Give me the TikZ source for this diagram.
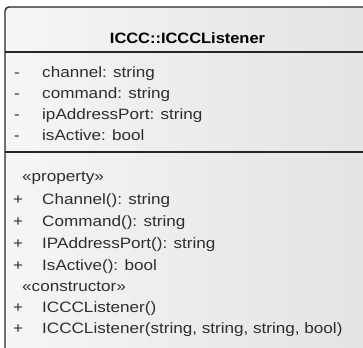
\documentclass[tikz,border=0pt]{standalone}
\usepackage{fontspec}
\setmainfont{Liberation Sans}[FakeStretch=1.14]
\newfontfamily\titlefont{Liberation Sans Bold}[FakeStretch=1.095]
\usetikzlibrary{shadings}
\definecolor{boxleft}{HTML}{F6F6F6}
\definecolor{boxright}{HTML}{E3E3E3}
\definecolor{txt}{HTML}{2E2E2E}
\tikzset{
  member/.style={anchor=base west, inner sep=0pt, text=txt, font=\fontsize{15}{17}\selectfont},
  vis/.style={anchor=base, inner sep=0pt, text=txt, font=\fontsize{15}{17}\selectfont},
  titletext/.style={anchor=base, inner sep=0pt, text=black, font=\fontsize{15}{17}\titlefont},
  border/.style={draw=black!85, line width=1.4pt}
}
\begin{document}
\begin{tikzpicture}[x=1pt,y=-1pt]
\useasboundingbox (0,0) rectangle (363,347);
\begin{scope}
\clip (0,0) rectangle (363,347);
\path[left color=boxleft, right color=boxright, border, rounded corners=4pt]
  (372,7) -- (5,7) -- (5,360) -- (372,360) -- cycle;
\draw[border] (5,52) -- (372,52);
\draw[border] (5,152) -- (372,152);
\end{scope}
\node[titletext] (title) at (187.5,44) {ICCC::ICCCListener};
% attributes
\node[vis] (v1) at (17,78) {-};
\node[member] (a1) at (42,78) {channel: string};
\node[vis] (v2) at (17,99) {-};
\node[member] (a2) at (42,99) {command: string};
\node[vis] (v3) at (17,120) {-};
\node[member] (a3) at (42,120) {ipAddressPort: string};
\node[vis] (v4) at (17,141) {-};
\node[member] (a4) at (42,141) {isActive: bool};
% operations
\node[member] (s1) at (22,181) {«property»};
\node[vis] (p1) at (18,204) {+};
\node[member] (o1) at (42,204) {Channel(): string};
\node[vis] (p2) at (18,226) {+};
\node[member] (o2) at (42,226) {Command(): string};
\node[vis] (p3) at (18,248) {+};
\node[member] (o3) at (42,248) {IPAddressPort(): string};
\node[vis] (p4) at (18,270) {+};
\node[member] (o4) at (42,270) {IsActive(): bool};
\node[member] (s2) at (22,291) {«constructor»};
\node[vis] (p5) at (18,312) {+};
\node[member] (o5) at (42,312) {ICCCListener()};
\node[vis] (p6) at (18,333) {+};
\node[member] (o6) at (42,333) {ICCCListener(string, string, string, bool)};
\end{tikzpicture}
\end{document}
